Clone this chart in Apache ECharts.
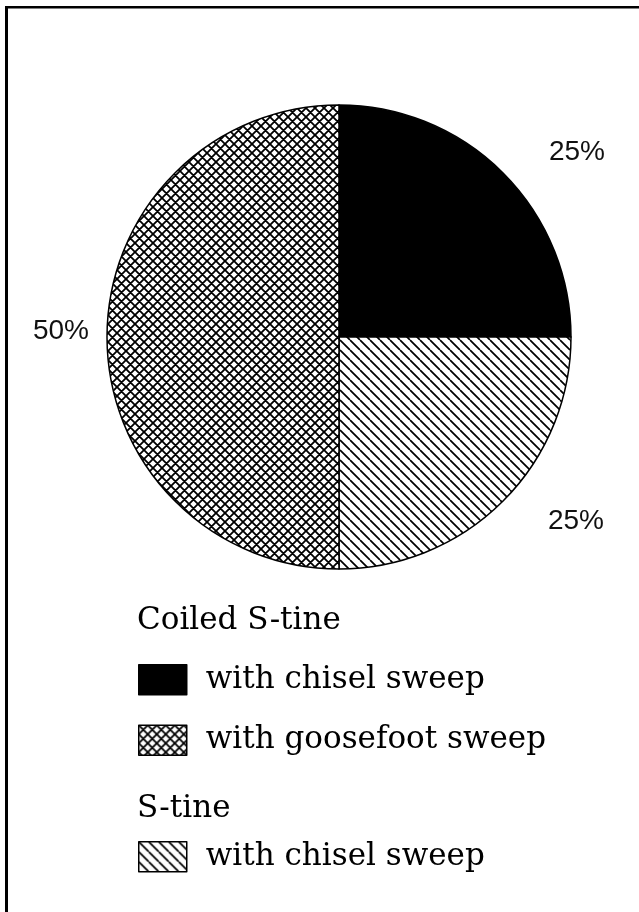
<!DOCTYPE html>
<html>
<head>
<meta charset="utf-8">
<script src="https://cdn.jsdelivr.net/npm/echarts@6/dist/echarts.min.js"></script>
<style>
  html, body { margin: 0; padding: 0; background: #fff; }
  #chart { width: 639px; height: 912px; }
</style>
</head>
<body>
<div id="chart"></div>
<script>
// slices, clockwise from 12 o'clock
const sliceNames = [
  "Coiled S-tine with chisel sweep",
  "S-tine with chisel sweep",
  "Coiled S-tine with goosefoot sweep"
];
const sliceValues = [25, 25, 50];
const sliceLabels = ["25%", "25%", "50%"];

const groupHeaders = ["Coiled S-tine", "S-tine"];
const coiledItems = ["Coiled S-tine with chisel sweep", "Coiled S-tine with goosefoot sweep"];
const stineItems = ["S-tine with chisel sweep"];

// where the percent labels sit (text centers)
const labelSpots = [[577, 152], [576, 521], [61, 331]];

const serif = "'DejaVu Serif', serif";

const makeHatch = (size, dirs, lw) => {
  const c = document.createElement("canvas");
  c.width = size;
  c.height = size;
  const ctx = c.getContext("2d");
  ctx.fillStyle = "#fff";
  ctx.fillRect(0, 0, size, size);
  ctx.strokeStyle = "#000";
  ctx.lineWidth = lw;
  ctx.beginPath();
  for (let k = -1; k <= 1; k++) {
    if (dirs.includes("\\")) {
      ctx.moveTo(k * size, 0);
      ctx.lineTo(k * size + size, size);
    }
    if (dirs.includes("/")) {
      ctx.moveTo(k * size, size);
      ctx.lineTo(k * size + size, 0);
    }
  }
  ctx.stroke();
  return { image: c, repeat: "repeat" };
};

const fills = [
  "#000",
  makeHatch(10, ["\\"], 1.7),
  makeHatch(9, ["\\", "/"], 1.8)
];

const chart = echarts.init(document.getElementById("chart"), null, { renderer: "canvas" });

const legendBase = {
  orient: "vertical",
  left: 138,
  padding: 0,
  itemWidth: 48,
  itemHeight: 30,
  itemGap: 29,
  icon: "rect",
  selectedMode: false,
  formatter: (name) => name.replace(/^(Coiled )?S-tine /, ""),
  itemStyle: { borderColor: "#000", borderWidth: 1.5 },
  textStyle: {
    fontFamily: serif,
    fontSize: 31,
    color: "#000",
    padding: [0, 0, 0, 14]
  }
};

chart.setOption({
  backgroundColor: "#fff",
  animation: false,
  title: [
    { text: groupHeaders[0], left: 137, top: 605 },
    { text: groupHeaders[1], left: 137, top: 793 }
  ].map((t) => ({
    ...t,
    padding: 0,
    textStyle: { fontFamily: serif, fontSize: 31, fontWeight: "normal", color: "#000" }
  })),
  legend: [
    { ...legendBase, top: 664, data: coiledItems },
    { ...legendBase, top: 841, data: stineItems }
  ],
  graphic: [
    { type: "rect", shape: { x: 5, y: 6, width: 3, height: 906 }, style: { fill: "#000" } },
    { type: "rect", shape: { x: 5, y: 6, width: 634, height: 2.5 }, style: { fill: "#000" } }
  ],
  series: [
    {
      type: "pie",
      center: [339, 337],
      radius: 232,
      startAngle: 90,
      clockwise: true,
      silent: true,
      itemStyle: { borderColor: "#000", borderWidth: 1.5 },
      label: {
        show: true,
        position: "outside",
        overflow: "none",
        alignTo: "none",
        formatter: (p) => sliceLabels[p.dataIndex],
        fontFamily: "'Liberation Sans', Arial, sans-serif",
        fontSize: 28,
        color: "#111"
      },
      labelLine: { show: false },
      labelLayout: (p) => ({
        x: labelSpots[p.dataIndex][0],
        y: labelSpots[p.dataIndex][1],
        width: 90,
        align: "center",
        verticalAlign: "middle"
      }),
      data: sliceNames.map((name, i) => ({
        name,
        value: sliceValues[i],
        itemStyle: { color: fills[i] }
      }))
    }
  ]
});
</script>
</body>
</html>
